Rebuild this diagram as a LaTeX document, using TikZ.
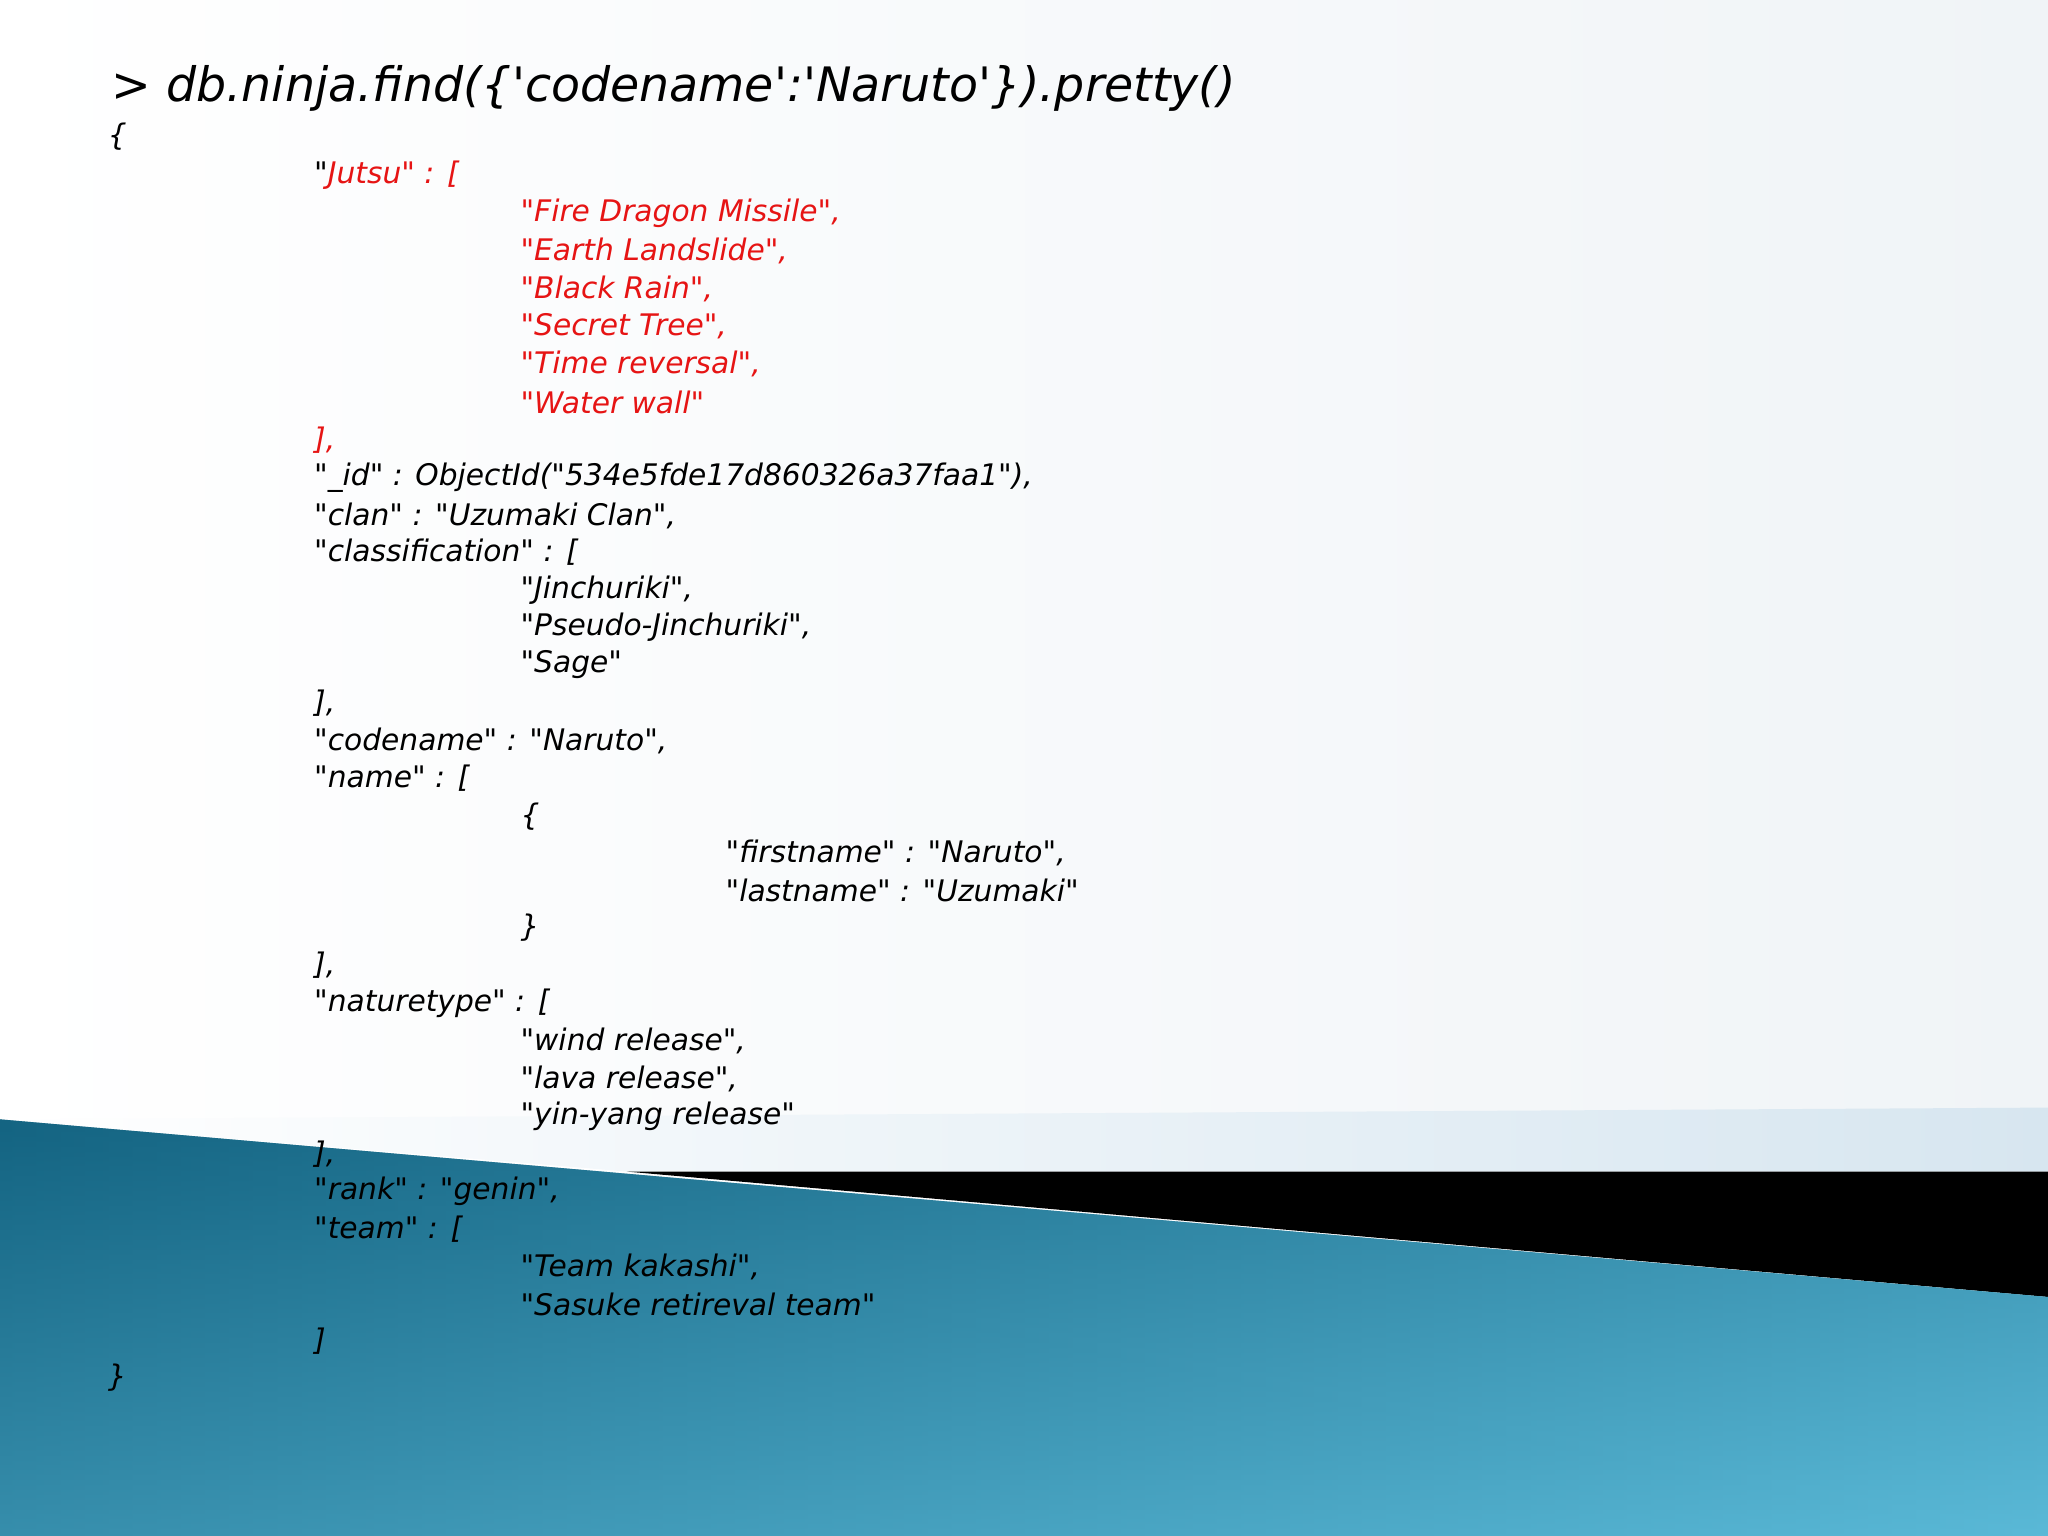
\documentclass[tikz,border=0pt]{standalone}
\usepackage{fontspec}
\setmainfont{DejaVu Sans}[Ligatures=TeXOff]
\definecolor{jred}{RGB}{230,20,20}
\definecolor{bgr}{RGB}{240,244,247}
\definecolor{lband}{RGB}{215,230,240}
\definecolor{tdark}{RGB}{20,100,130}
\definecolor{tlight}{RGB}{90,185,215}
\begin{document}
\begin{tikzpicture}[x=0.013061cm,y=-0.013061cm,
  t/.style={anchor=west,inner sep=0pt,font=\fontsize{8.45}{10}\selectfont\itshape},
  r/.style={t,text=jred}]
\useasboundingbox (0,0) rectangle (1568,1176);
\shade[left color=white,right color=bgr] (0,0) rectangle (1568,857);
\shade[left color=white,right color=lband] (0,857)--(1568,848)--(1568,897)--(480,897)--cycle;
\fill[black] (480,897)--(1568,897)--(1568,993)--cycle;
\shade[top color=tdark,bottom color=tlight] (0,857)--(1568,993)--(1568,1176)--(0,1176)--cycle;
\shade[left color=tdark,right color=tlight,opacity=0.5] (0,857)--(1568,993)--(1568,1176)--(0,1176)--cycle;
\node[t,font=\fontsize{13.5}{16}\selectfont\itshape] (title) at (85,68) {> db.ninja.find(\{'codename':'Naruto'\}).pretty()};
\node[t] (ob) at (82,105) {\{};
\node[t] (a1) at (240,134) {"\textcolor{jred}{Jutsu" : [}};
\node[r] (a2) at (398,163) {"Fire Dragon Missile",};
\node[r] (a3) at (398,192) {"Earth Landslide",};
\node[r] (a4) at (398,221) {"Black Rain",};
\node[r] (a5) at (398,250) {"Secret Tree",};
\node[r] (a6) at (398,279) {"Time reversal",};
\node[r] (a7) at (398,308) {"Water wall"};
\node[r] (a8) at (240,337) {],};
\node[t] (a9) at (240,366) {"\_id" : ObjectId("534e5fde17d860326a37faa1"),};
\node[t] (a10) at (240,395) {"clan" : "Uzumaki Clan",};
\node[t] (a11) at (240,423) {"classification" : [};
\node[t] (a12) at (398,452) {"Jinchuriki",};
\node[t] (a13) at (398,480) {"Pseudo-Jinchuriki",};
\node[t] (a14) at (398,509) {"Sage"};
\node[t] (a15) at (240,538) {],};
\node[t] (a16) at (240,567) {"codename" : "Naruto",};
\node[t] (a17) at (240,596) {"name" : [};
\node[t] (a18) at (398,625) {\{};
\node[t] (a19) at (555,653) {"firstname" : "Naruto",};
\node[t] (a20) at (555,682) {"lastname" : "Uzumaki"};
\node[t] (a21) at (398,710) {\}};
\node[t] (a22) at (240,739) {],};
\node[t] (a23) at (240,768) {"naturetype" : [};
\node[t] (a24) at (398,797) {"wind release",};
\node[t] (a25) at (398,826) {"lava release",};
\node[t] (a26) at (398,855) {"yin-yang release"};
\node[t] (a27) at (240,884) {],};
\node[t] (a28) at (240,912) {"rank" : "genin",};
\node[t] (a29) at (240,941) {"team" : [};
\node[t] (a30) at (398,970) {"Team kakashi",};
\node[t] (a31) at (398,999) {"Sasuke retireval team"};
\node[t] (a32) at (240,1027) {]};
\node[t] (cb) at (82,1055) {\}};
\end{tikzpicture}
\end{document}
